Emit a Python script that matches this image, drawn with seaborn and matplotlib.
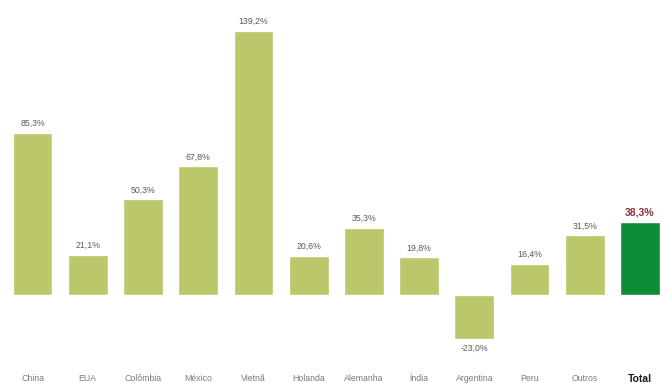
import matplotlib
matplotlib.use("Agg")
import matplotlib.pyplot as plt
import seaborn as sns
import pandas as pd

paises = ["China", "EUA", "Colômbia", "México", "Vietnã", "Holanda", "Alemanha",
          "Índia", "Argentina", "Peru", "Outros", "Total"]
variacao = [85.3, 21.1, 50.3, 67.8, 139.2, 20.6, 35.3, 19.8, -23.0, 16.4, 31.5, 38.3]

cor_barra = "#BCC66A"
cor_total = "#0F8C36"

sns.set_theme(style="white")
plt.rcParams["font.family"] = ["Liberation Sans", "DejaVu Sans"]

df = pd.DataFrame({"pais": paises, "var": variacao})
cores = [cor_total if p == "Total" else cor_barra for p in paises]

fig = plt.figure(figsize=(6.63, 3.83), dpi=100)
ax = fig.add_axes([4.9 / 663, 1 - 368 / 383, 662.7 / 663, 368 / 383])

sns.barplot(data=df, x="pais", y="var", hue="pais", palette=cores, legend=False,
            width=0.72, saturation=1, ax=ax)

px = 1.899  # pixels per percentage point
ax.set_ylim(-(368 - 295) / px, 295 / px)
ax.set_xlim(-0.5, 11.5)

for i, (p, v) in enumerate(zip(paises, variacao)):
    txt = f"{v:.1f}%".replace(".", ",")
    if p == "Total":
        ax.text(i, v + 2.5, txt, ha="center", va="bottom", fontsize=7.5,
                fontweight="bold", color="#8E2E3E")
    elif v >= 0:
        ax.text(i, v + 2.5, txt, ha="center", va="bottom", fontsize=6.3, color="#5A5A5A")
    else:
        ax.text(i, v - 2.5, txt, ha="center", va="top", fontsize=6.3, color="#5A5A5A")

ax.set_xlabel("")
ax.set_ylabel("")
ax.set_yticks([])
ax.tick_params(axis="x", length=0, pad=4, labelsize=6.3, labelcolor="#7A7A7A")
for lbl in ax.get_xticklabels():
    if lbl.get_text() == "Total":
        lbl.set_fontweight("bold")
        lbl.set_color("#1A1A1A")
        lbl.set_fontsize(7.5)
for s in ax.spines.values():
    s.set_visible(False)

fig.savefig("out.png", dpi=100)
